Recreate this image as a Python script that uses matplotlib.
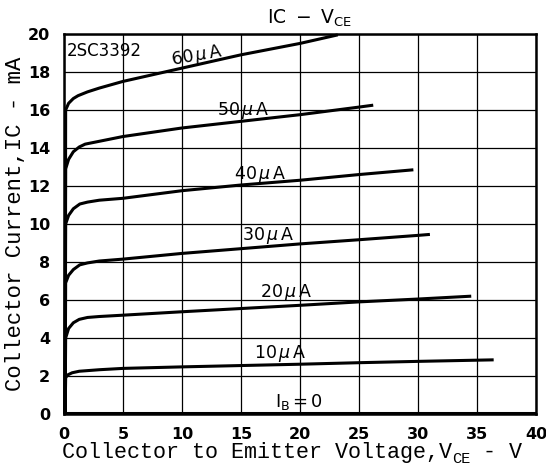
import numpy as np
import matplotlib
matplotlib.use('Agg')
import matplotlib.pyplot as plt

# ----------
# Data (V_CE in V, I_C in mA)

ib10_v = [0.1, 0.15, 0.3, 0.7, 1.3, 3, 5, 10, 15, 20, 25, 30, 36.4]
ib10_i = [0, 1.9, 2.05, 2.17, 2.25, 2.33, 2.4, 2.48, 2.55, 2.62, 2.7, 2.77, 2.85]

ib20_v = [0.1, 0.15, 0.4, 0.8, 1.3, 2, 3, 5, 10, 15, 20, 25, 30, 34.5]
ib20_i = [0, 4.0, 4.5, 4.8, 4.98, 5.08, 5.13, 5.2, 5.38, 5.55, 5.72, 5.9, 6.05, 6.2]

ib30_v = [0.1, 0.15, 0.4, 0.8, 1.35, 2, 3, 5, 10, 15, 20, 25, 30, 31]
ib30_i = [0, 6.9, 7.3, 7.6, 7.85, 7.95, 8.05, 8.15, 8.45, 8.7, 8.95, 9.17, 9.4, 9.45]

ib40_v = [0.1, 0.15, 0.4, 0.8, 1.35, 2, 3, 5, 10, 15, 20, 25, 29.6]
ib40_i = [0, 10.0, 10.45, 10.8, 11.05, 11.15, 11.25, 11.35, 11.75, 12.05, 12.3, 12.6, 12.85]

ib50_v = [0.1, 0.15, 0.4, 0.8, 1.3, 1.8, 3, 5, 10, 15, 20, 25, 26.2]
ib50_i = [0, 12.9, 13.4, 13.8, 14.05, 14.2, 14.35, 14.6, 15.05, 15.4, 15.75, 16.15, 16.25]

ib60_v = [0.1, 0.15, 0.4, 0.8, 1.2, 2, 3, 5, 10, 15, 20, 23.2]
ib60_i = [0, 16.0, 16.35, 16.6, 16.75, 16.95, 17.15, 17.5, 18.2, 18.9, 19.5, 19.95]

ib0_v = [0.1, 40]
ib0_i = [0.05, 0.05]

curve_labels = ['10$\\,\\mu\\,$A', '20$\\,\\mu\\,$A', '30$\\,\\mu\\,$A',
                '40$\\,\\mu\\,$A', '50$\\,\\mu\\,$A', '60$\\,\\mu\\,$A']
label_x = [18.3, 18.8, 17.3, 16.6, 15.2, 11.3]
label_y = [3.2, 6.4, 9.4, 12.6, 15.95, 18.85]
label_rot = [0, 0, 0, 0, 0, 10]

x_ticks = [0, 5, 10, 15, 20, 25, 30, 35, 40]
y_ticks = [0, 2, 4, 6, 8, 10, 12, 14, 16, 18, 20]

# ----------

fig = plt.figure(figsize=(5.46, 4.71), dpi=100, facecolor='white')
ax = fig.add_axes([0.117, 0.121, 0.865, 0.807])

ax.set_xlim(0, 40)
ax.set_ylim(0, 20)
ax.set_xticks(x_ticks)
ax.set_yticks(y_ticks)
ax.grid(True, color='black', linewidth=0.9)
ax.tick_params(axis='x', length=0, pad=9, labelsize=11.5)
ax.tick_params(axis='y', length=0, pad=10, labelsize=11.5)
for lab in ax.get_xticklabels() + ax.get_yticklabels():
    lab.set_fontweight('bold')
for s in ax.spines.values():
    s.set_linewidth(1.8)

curves = [(ib10_v, ib10_i), (ib20_v, ib20_i), (ib30_v, ib30_i),
          (ib40_v, ib40_i), (ib50_v, ib50_i), (ib60_v, ib60_i), (ib0_v, ib0_i)]
for v, i in curves:
    ax.plot(v, i, color='black', linewidth=2.2, solid_capstyle='butt', clip_on=False)

for k, lab in enumerate(curve_labels):
    ax.text(label_x[k], label_y[k], lab, fontsize=12.5, ha='center', va='center',
            rotation=label_rot[k])

ax.text(19.9, 0.65, '$\\mathregular{I_B}$$\\,$=$\\,$0', fontsize=13, ha='center', va='center')
ax.text(0.25, 19.1, '2SC3392', fontsize=12, ha='left', va='center')

fig.text(0.568, 0.962, '$\\mathregular{IC\\ -\\ V_{CE}}$', fontsize=13.5, ha='center', va='center')

# axis labels in a typewriter face, x label built in pieces for the subscript
mono = {'family': 'Liberation Mono', 'weight': 'normal'}
fig.text(16 / 546, 0.525, 'Collector Current,IC - mA', fontsize=16, rotation=90,
         ha='center', va='center', **mono)

t1 = fig.text(62 / 546, 0.028, 'Collector to Emitter Voltage,V', fontsize=15.7,
              ha='left', va='baseline', **mono)
fig.canvas.draw()
r = fig.canvas.get_renderer()
bb = t1.get_window_extent(r).transformed(fig.transFigure.inverted())
t2 = fig.text(bb.x1, 0.028 - 0.012, 'CE', fontsize=11, ha='left', va='baseline', **mono)
bb2 = t2.get_window_extent(r).transformed(fig.transFigure.inverted())
fig.text(bb2.x1, 0.028, ' - V', fontsize=15.7, ha='left', va='baseline', **mono)

fig.savefig('out.png', dpi=100, facecolor='white')
